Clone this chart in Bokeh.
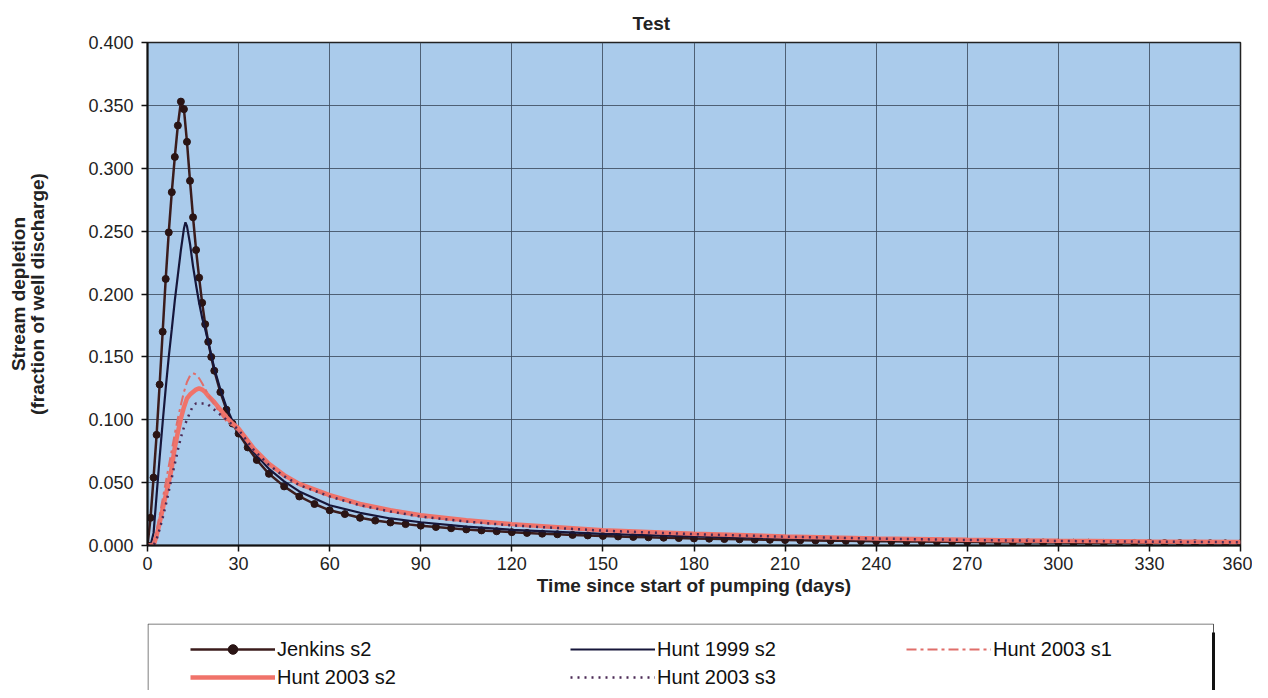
from bokeh.plotting import figure
from bokeh.layouts import column
from bokeh.models import Range1d, FixedTicker, NumeralTickFormatter, Legend, LegendItem
from bokeh.embed import file_html
from bokeh.resources import INLINE

# ---------------- data ----------------
jenkins_t = [0, 1, 2, 3, 4, 5, 6, 7, 8, 9, 10, 11, 12, 13, 14, 15, 16, 17, 18, 19, 20, 21, 22,
             24, 26, 28, 30, 33, 36, 40, 45, 50, 55, 60, 65, 70, 75, 80, 85, 90,
             95, 100, 105, 110, 115, 120, 125, 130, 135, 140, 145, 150, 155, 160, 165, 170,
             175, 180, 185, 190, 195, 200, 205, 210, 215, 220, 225, 230, 235, 240, 245, 250,
             255, 260, 265, 270, 275, 280, 285, 290, 295, 300, 305, 310, 315, 320, 325, 330,
             335, 340, 345, 350, 355, 360]
jenkins_v = [0.000, 0.022, 0.054, 0.088, 0.128, 0.170, 0.212, 0.249, 0.281, 0.309, 0.334, 0.353,
             0.347, 0.321, 0.290, 0.261, 0.235, 0.213, 0.193, 0.176, 0.162, 0.150, 0.139,
             0.122, 0.108, 0.097, 0.089, 0.078, 0.068, 0.057, 0.047, 0.039, 0.033, 0.028,
             0.025, 0.022, 0.0198, 0.0183, 0.0170, 0.0158,
             0.0147, 0.0137, 0.0128, 0.0120, 0.0113, 0.0106, 0.0100, 0.0094, 0.0089, 0.0084,
             0.0080, 0.0076, 0.0072, 0.0068, 0.0065, 0.0062, 0.0059, 0.0056, 0.0054, 0.0051,
             0.0049, 0.0047, 0.0045, 0.0043, 0.0041, 0.0040, 0.0038, 0.0037, 0.0035, 0.0034,
             0.0033, 0.0032, 0.0031, 0.0030, 0.0029, 0.0028, 0.0027, 0.0026, 0.0025, 0.0025,
             0.0024, 0.0023, 0.0022, 0.0022, 0.0021, 0.0021, 0.0020, 0.0020, 0.0019, 0.0019,
             0.0018, 0.0018, 0.0017, 0.0017]

hunt1999_t = [0, 1, 2, 3, 4, 5, 6, 7, 8, 9, 10, 11, 12, 12.5, 13, 14, 15, 16, 17, 18, 19, 20,
              22, 24, 26, 28, 30, 35, 40, 45, 50, 60, 70, 80, 90, 105, 120, 150, 180, 210,
              240, 270, 300, 330, 360]
hunt1999_v = [0.000, 0.000, 0.010, 0.040, 0.070, 0.098, 0.125, 0.150, 0.172, 0.195, 0.215, 0.235,
              0.252, 0.257, 0.254, 0.240, 0.222, 0.207, 0.193, 0.181, 0.172, 0.162,
              0.141, 0.124, 0.110, 0.099, 0.090, 0.074, 0.061, 0.051, 0.043, 0.032, 0.026,
              0.0215, 0.0185, 0.0150, 0.0125, 0.0093, 0.0072, 0.0058,
              0.0048, 0.0040, 0.0035, 0.0030, 0.0027]

hunt2003s1_t = [0, 2, 3, 4, 5, 6, 7, 8, 9, 10, 11, 12, 13, 14, 15, 16, 17, 18, 20, 22, 24, 26,
                28, 30, 35, 40, 45, 50, 60, 70, 80, 90, 105, 120, 150, 180, 210, 240, 270,
                300, 330, 360]
hunt2003s1_v = [0.000, 0.002, 0.012, 0.024, 0.037, 0.050, 0.063, 0.076, 0.089, 0.101, 0.112,
                0.122, 0.130, 0.135, 0.137, 0.136, 0.133, 0.129, 0.120, 0.112, 0.105, 0.099,
                0.095, 0.091, 0.076, 0.064, 0.055, 0.048, 0.039, 0.032, 0.027, 0.023, 0.019,
                0.016, 0.0118, 0.0091, 0.0070, 0.0055, 0.0044, 0.0036, 0.0030, 0.0026]

hunt2003s2_t = [0, 2, 3, 4, 5, 6, 7, 8, 9, 10, 11, 12, 13, 14, 15, 16, 17, 18, 19, 20, 22, 24,
                26, 28, 30, 35, 40, 45, 50, 60, 70, 80, 90, 105, 120, 150, 180, 210, 240, 270,
                300, 330, 360]
hunt2003s2_v = [0.000, 0.000, 0.008, 0.018, 0.029, 0.040, 0.050, 0.062, 0.078, 0.090, 0.101,
                0.110, 0.117, 0.120, 0.122, 0.124, 0.125, 0.124, 0.122, 0.119, 0.114, 0.108,
                0.102, 0.097, 0.093, 0.077, 0.065, 0.056, 0.049, 0.040, 0.033, 0.028, 0.024,
                0.020, 0.0170, 0.0122, 0.0094, 0.0072, 0.0056, 0.0045, 0.0037, 0.0031, 0.0027]

hunt2003s3_t = [0, 2, 3, 4, 5, 6, 7, 8, 9, 10, 11, 12, 13, 14, 15, 16, 17, 18, 19, 20, 21, 22,
                24, 26, 28, 30, 35, 40, 45, 50, 60, 70, 80, 90, 105, 120, 150, 180, 210, 240,
                270, 300, 330, 360]
hunt2003s3_v = [0.000, 0.000, 0.005, 0.013, 0.022, 0.032, 0.043, 0.054, 0.065, 0.076, 0.086,
                0.094, 0.100, 0.106, 0.111, 0.113, 0.113, 0.113, 0.113, 0.112, 0.110, 0.108,
                0.104, 0.100, 0.096, 0.092, 0.076, 0.064, 0.055, 0.048, 0.039, 0.032, 0.027,
                0.023, 0.019, 0.016, 0.0118, 0.0090, 0.0070, 0.0055, 0.0044, 0.0036, 0.0030,
                0.0026]

x_ticks = [0, 30, 60, 90, 120, 150, 180, 210, 240, 270, 300, 330, 360]
y_ticks = [0.0, 0.05, 0.10, 0.15, 0.20, 0.25, 0.30, 0.35, 0.40]

FONT = "Liberation Sans"
C_JEN = "#3b1c1c"
C_H99 = "#16163a"
C_S2 = "#f0736a"
C_S1 = "#e06e6a"
C_S3 = "#4b2a55"

p = figure(width=1252, height=600, output_backend="svg", toolbar_location=None,
           x_range=Range1d(0, 360), y_range=Range1d(0, 0.4),
           min_border_left=147, min_border_right=12, min_border_top=42, min_border_bottom=55,
           title="Test")

p.title.align = "left"
p.title.offset = 485
p.title.standoff = 17
p.title.text_font = FONT
p.title.text_font_size = "19px"
p.title.text_font_style = "bold"
p.title.text_color = "#222222"

p.background_fill_color = "#aacbeb"
p.border_fill_color = "white"
p.outline_line_color = "#222222"
p.outline_line_width = 1.5

p.xgrid.ticker = FixedTicker(ticks=x_ticks)
p.ygrid.ticker = FixedTicker(ticks=y_ticks)
for g in (p.xgrid[0], p.ygrid[0]):
    g.grid_line_color = "#3e4d60"
    g.grid_line_width = 1
    g.grid_line_alpha = 0.85

p.xaxis.ticker = FixedTicker(ticks=x_ticks)
p.yaxis.ticker = FixedTicker(ticks=y_ticks)
p.yaxis.formatter = NumeralTickFormatter(format="0.000")
for ax in (p.xaxis[0], p.yaxis[0]):
    ax.axis_line_color = "#111111"
    ax.axis_line_width = 2
    ax.major_tick_line_color = "#111111"
    ax.major_tick_line_width = 1.5
    ax.major_tick_in = 0
    ax.major_tick_out = 6
    ax.minor_tick_line_color = None
    ax.major_label_text_font = FONT
    ax.major_label_text_font_size = "18px"
    ax.major_label_text_color = "#222222"
    ax.axis_label_text_font = FONT
    ax.axis_label_text_font_size = "19px"
    ax.axis_label_text_font_style = "bold"
    ax.axis_label_text_color = "#222222"

p.xaxis.axis_label = "Time since start of pumping (days)"
p.xaxis.major_label_standoff = 5
p.xaxis.axis_label_standoff = 2
p.yaxis.axis_label = "Stream depletion\n(fraction of well discharge)"
p.yaxis.axis_label_text_line_height = 0.95
p.yaxis.major_label_standoff = 8
p.yaxis.axis_label_standoff = 37

jen_kw = dict(line_color=C_JEN, line_width=2.5)
jm_kw = dict(size=7, marker="circle", fill_color="#2a1414", line_color="#2a1414")
h99_kw = dict(line_color=C_H99, line_width=2.2)
s2_kw = dict(line_color=C_S2, line_width=4.5)
s1_kw = dict(line_color=C_S1, line_width=2, line_dash="10 4 3 4")
s3_kw = dict(line_color=C_S3, line_width=2.5, line_dash="2 5")

p.line(jenkins_t, jenkins_v, **jen_kw)
p.scatter(jenkins_t, jenkins_v, **jm_kw)
p.line(hunt1999_t, hunt1999_v, **h99_kw)
p.line(hunt2003s2_t, hunt2003s2_v, **s2_kw)
p.line(hunt2003s1_t, hunt2003s1_v, **s1_kw)
p.line(hunt2003s3_t, hunt2003s3_v, **s3_kw)

# ---------------- legend panel below the chart ----------------
# q's frame spans the same pixels as p's frame horizontally (x in pixels from frame left)
q = figure(width=1252, height=90, output_backend="svg", toolbar_location=None,
           x_range=Range1d(0, 1093), y_range=Range1d(0, 67),
           min_border_left=147, min_border_right=12, min_border_top=23, min_border_bottom=0)
q.axis.visible = False
q.grid.visible = False
q.background_fill_color = "white"
q.outline_line_color = None
q.extra_y_ranges = {"hidden": Range1d(10, 11)}

# legend box
q.quad(left=[0.5], right=[1066], bottom=[-5], top=[66.5], fill_color="white",
       line_color="#555555", line_width=1)
q.segment(x0=[1066], y0=[-5], x1=[1066], y1=[58], line_color="#111111", line_width=3)

# legend proxies: same series, drawn on a hidden range so only the legend shows them
lj = q.line(jenkins_t, jenkins_v, y_range_name="hidden", **jen_kw)
ljm = q.scatter(jenkins_t, jenkins_v, y_range_name="hidden", **jm_kw)
lh = q.line(hunt1999_t, hunt1999_v, y_range_name="hidden", **h99_kw)
l2 = q.line(hunt2003s2_t, hunt2003s2_v, y_range_name="hidden", **s2_kw)
l1 = q.line(hunt2003s1_t, hunt2003s1_v, y_range_name="hidden", **s1_kw)
l3 = q.line(hunt2003s3_t, hunt2003s3_v, y_range_name="hidden", **s3_kw)


def make_legend(items, x, y):
    lg = Legend(items=items, location=(x, y))
    lg.label_text_font = FONT
    lg.label_text_font_size = "20px"
    lg.label_text_color = "#111111"
    lg.glyph_width = 85
    lg.glyph_height = 24
    lg.label_standoff = 2
    lg.spacing = 4
    lg.padding = 0
    lg.margin = 0
    lg.border_line_color = None
    lg.background_fill_alpha = 0
    q.add_layout(lg, "center")


make_legend([LegendItem(label="Jenkins s2", renderers=[lj, ljm]),
             LegendItem(label="Hunt 2003 s2", renderers=[l2])], 43, 1)
make_legend([LegendItem(label="Hunt 1999 s2", renderers=[lh]),
             LegendItem(label="Hunt 2003 s3", renderers=[l3])], 423, 1)
make_legend([LegendItem(label="Hunt 2003 s1", renderers=[l1])], 759, 29)

layout = column(p, q, spacing=0)
open("out.html", "w").write(file_html(layout, INLINE))
